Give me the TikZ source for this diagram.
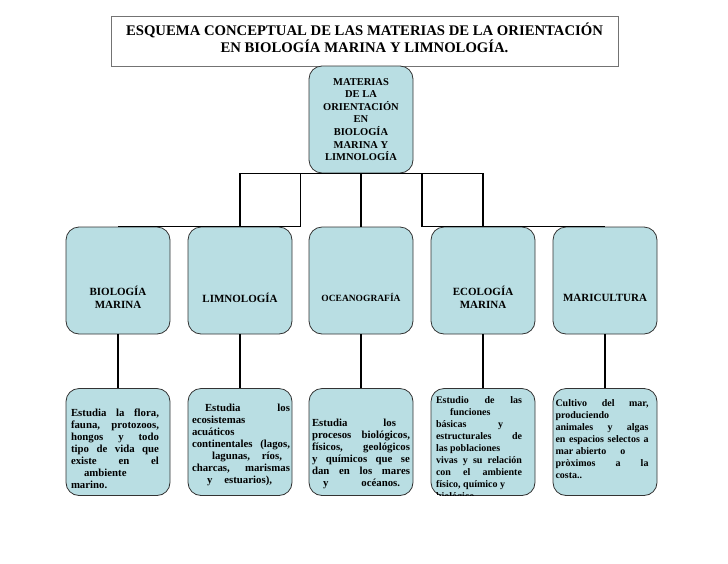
\documentclass[tikz,border=0pt]{standalone}
\usepackage{fontspec}
\setmainfont{Liberation Serif}
\usetikzlibrary{calc}
\setlength{\parindent}{0pt}
\definecolor{seablue}{RGB}{185,222,227}
\tikzset{
 headbox/.style={draw=black!55,line width=.9pt,minimum width=507pt,minimum height=50pt,inner sep=0,align=center,font=\bfseries\fontsize{14.7}{17}\selectfont,text depth=7pt},
 topic/.style={draw=black!80,fill=seablue,line width=.8pt,rounded corners=13pt,minimum width=104pt,minimum height=107pt,inner sep=0},
 subjectname/.style={align=center,font=\bfseries\fontsize{11}{13}\selectfont,yshift=-17pt},
 blurb/.style={anchor=north,inner sep=0,align=justify,font=\bfseries\fontsize{10.8}{12}\selectfont},
 smallblurb/.style={blurb,font=\bfseries\fontsize{10}{12}\selectfont},
 link/.style={line width=1.6pt}
}

\begin{document}
\begin{tikzpicture}[x=1pt,y=-1pt]
\path[use as bounding box] (0,0) rectangle (728,563);
\node[headbox] (title) at (364.5,41) {ESQUEMA CONCEPTUAL DE LAS MATERIAS DE LA ORIENTACIÓN\\EN BIOLOGÍA MARINA Y LIMNOLOGÍA.};
\node[topic,align=center,font=\bfseries\fontsize{10.5}{12.6}\selectfont] (materias) at (361,119.5) {MATERIAS\\DE LA\\ORIENTACIÓN\\EN\\BIOLOGÍA\\MARINA Y\\LIMNOLOGÍA};
% subjects
\node[topic,label={[subjectname]center:BIOLOGÍA\\MARINA}] (biol) at (118,280.5) {};
\node[topic,label={[subjectname]center:LIMNOLOGÍA}] (limn) at (240,280.5) {};
\node[topic,label={[subjectname,font=\bfseries\fontsize{9.5}{12}\selectfont]center:OCEANOGRAFÍA}] (ocea) at (361,280.5) {};
\node[topic,label={[subjectname]center:ECOLOGÍA\\MARINA}] (ecol) at (483,280.5) {};
\node[topic,label={[subjectname]center:MARICULTURA}] (maric) at (605,280.5) {};
% descriptions
\foreach \s/\x in {biol/118,limn/240,ocea/361,ecol/483,maric/605}
  \node[topic] (\s D) at (\x,442) {};
% links
\coordinate (barL) at ($(limn.north)!.5!(ocea.north)$);
\coordinate (barR) at ($(ocea.north)!.5!(ecol.north)$);
\draw[link] (limn.north) |- (materias.south) -| (ecol.north);
\draw[link] (materias.south) -- (ocea.north);
\draw[link] (biol.north) -- (barL) -- (barL |- materias.south);
\draw[link] (maric.north) -- (barR) -- (barR |- materias.south);
\foreach \s in {biol,limn,ocea,ecol,maric}
  \draw[link] (\s.south) -- (\s D.north);
% texts
\node[blurb,text width=88pt] (biolTxt) at ($(biolD.north)+(-3,21)$) {Estudia la flora,\linebreak fauna, protozoos,\linebreak hongos y todo\linebreak tipo de vida que\linebreak existe en el\linebreak \hspace*{13pt}ambiente\\marino.};
\node[blurb,text width=98pt] (limnTxt) at ($(limnD.north)+(1,16)$) {\hspace*{13pt}Estudia los\linebreak ecosistemas\\acuáticos\\continentales (lagos,\linebreak \hspace*{20pt}lagunas,\hfill ríos,\hspace*{8pt}\\charcas, marismas\linebreak \hspace*{15pt}y\hspace{12pt}estuarios),};
\node[blurb,text width=98pt] (oceaTxt) at ($(oceaD.north)+(0,31)$) {Estudia\hspace{36pt}los\\procesos biológicos,\linebreak físicos, geológicos\linebreak y químicos que se\linebreak dan en los mares\linebreak \hspace*{11pt}y\hspace{33pt}océanos.};
\begin{scope}
\clip[rounded corners=13pt] (ecolD.north west) rectangle (ecolD.south east);
\node[smallblurb,text width=86pt] (ecolTxt) at ($(ecolD.north)+(-4,8)$) {Estudio de las\linebreak \hspace*{14pt}funciones\\básicas\hfill y\hspace*{19pt}\\estructurales de\linebreak las poblaciones\\vivas y su relación\linebreak con el ambiente\linebreak físico, químico y\\biológico.};
\end{scope}
\node[smallblurb,text width=93pt] (maricTxt) at ($(maricD.north)+(-3,11)$) {Cultivo del mar,\linebreak produciendo\\animales y algas\linebreak en espacios selectos a\linebreak mar abierto\hspace{14pt}o\\pròximos a la\linebreak costa..};
\end{tikzpicture}
\end{document}
